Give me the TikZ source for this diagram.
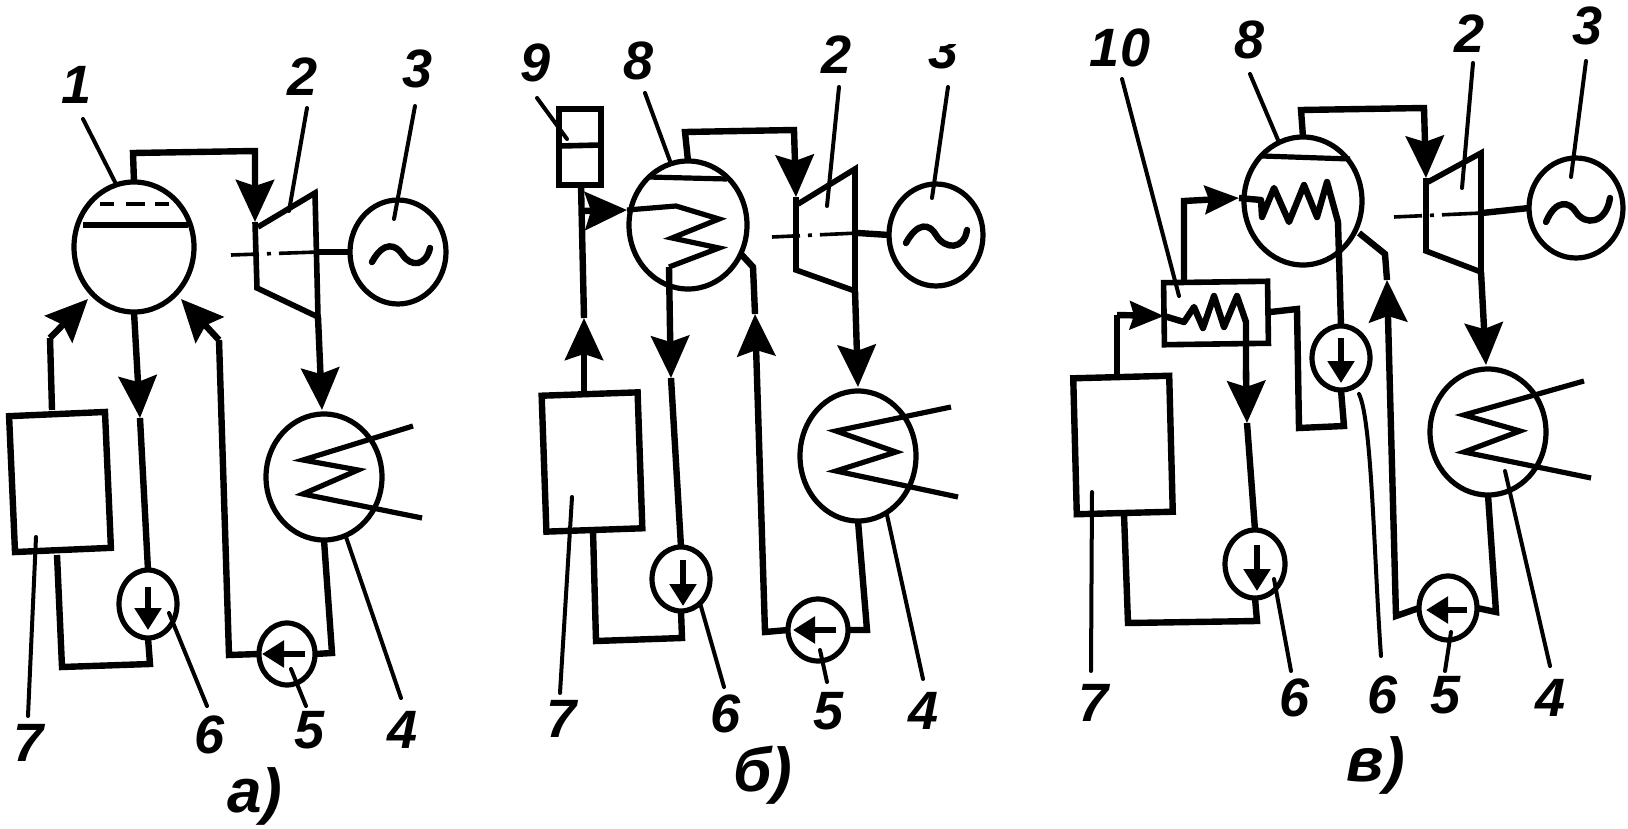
\documentclass[tikz,border=0pt]{standalone}
\usepackage{fontspec}
\setmainfont{Liberation Sans}
\usetikzlibrary{arrows.meta,shapes.geometric}
\tikzset{
 vessel/.style={ellipse,draw=black,line width=2.6pt,inner sep=0pt,outer sep=0pt,fill=none},
 boxunit/.style={rectangle,draw=black,line width=3.2pt,inner sep=0pt,outer sep=0pt},
 pipe/.style={line width=3.2pt,line join=miter,line cap=butt},
 flow/.style={pipe,-{Stealth[length=21pt,width=19pt,inset=3pt]}},
 smallflow/.style={pipe,-{Stealth[length=17pt,width=14pt,inset=2pt]}},
 innerflow/.style={line width=2.6pt,-{Triangle[length=11pt,width=13pt]}},
 coil/.style={line width=2.6pt,line join=miter,miter limit=8},
 tcoil/.style={line width=3.2pt,line join=round},
 casing/.style={line width=2.8pt,line join=miter},
 shaft/.style={line width=1.8pt,dash pattern=on 14pt off 4pt on 2pt off 4pt on 20pt off 1pt},
 wave/.style={line width=3.2pt,line cap=round},
 lab/.style={font=\fontsize{27}{30}\selectfont\itshape\bfseries,inner sep=0pt,text=black},
 caplab/.style={lab,font=\fontsize{31}{34}\selectfont\itshape\bfseries},
 leaderline/.style={line width=2pt,line cap=round},
}
\newcommand\callout[5]{\node[lab] (#1) at (#2) {#3};\coordinate (#1s) at (#4);\coordinate (#1e) at (#5);\draw[leaderline] (#1s) -- (#1e);}
\begin{document}
\begin{tikzpicture}[x=0.5pt,y=-0.5pt]
\useasboundingbox[fill=white] (0,0) rectangle (1628,829);

%%%%%%%%%% panel a
\node[vessel,minimum width=60pt,minimum height=65pt] (aDrum) at (134,247) {};
\node[vessel,minimum width=48pt,minimum height=52pt] (aGen) at (398,252) {};
\node[vessel,minimum width=58pt,minimum height=63pt] (aCond) at (324,477) {};
\node[vessel,minimum width=28pt,minimum height=31pt] (aP5) at (287,654) {};
\node[vessel,minimum width=29pt,minimum height=34pt] (aP6) at (148,604) {};
\node[boxunit,rotate=2.5,minimum width=48pt,minimum height=68pt] (aBoil) at (60,482) {};
% drum internals
\coordinate (aw1) at (83,225); \coordinate (aw2) at (188,225);
\draw[line width=2.6pt] (aw1) -- (aw2);
\coordinate (ad1) at (100,204); \coordinate (ad2) at (114,204);
\coordinate (ad3) at (126,204); \coordinate (ad4) at (145,204);
\coordinate (ad5) at (155,204); \coordinate (ad6) at (169,204);
\draw[line width=1.8pt] (ad1) -- (ad2) (ad3) -- (ad4) (ad5) -- (ad6);
% steam line
\coordinate (as1) at (133,153); \coordinate (as2) at (255,151); \coordinate (as3) at (255,222);
\draw[flow] (aDrum.north) -- (as1) -- (as2) -- (as3);
% turbine
\coordinate (at1) at (258,227); \coordinate (at2) at (315,193); \coordinate (at3) at (318,317); \coordinate (at4) at (257,288);
\draw[casing] (as3) -- (at4) -- (at3) (at1) -- (at2) -- (at3);
\coordinate (asf1) at (231,255); \coordinate (asf2) at (318,252);
\draw[shaft] (asf1) -- (asf2);
\draw[pipe] (asf2) -- (aGen.west);
\draw[wave] (372,262) .. controls (384,240) and (396,245) .. (402,254) .. controls (411,268) and (426,266) .. (430,248);
% exhaust
\coordinate (aex) at (322,410);
\draw[flow] (at3) -- (aex);
% condenser coil
\coordinate (ac1) at (413,426); \coordinate (ac2) at (303,460); \coordinate (ac3) at (358,470); \coordinate (ac4) at (303,494); \coordinate (ac5) at (422,518);
\draw[coil] (ac1) -- (ac2) -- (ac3) -- (ac4) -- (ac5);
% condensate
\coordinate (ad7) at (332,653);
\draw[pipe] (aCond.south) -- (ad7) -- (aP5.east);
\coordinate (api1) at (305,654); \coordinate (api2) at (262,654);
\draw[innerflow] (api1) -- (api2);
\coordinate (ar1) at (229,655); \coordinate (ar2) at (219,340); \coordinate (ar3) at (181,299);
\draw[pipe] (aP5.west) -- (ar1) -- (ar2);
\draw[flow] (ar2) -- (ar3);
% drum to pump 6
\coordinate (adn) at (140,418);
\draw[flow] (aDrum.south) -- (adn);
\draw[pipe] (adn) -- (aP6.north);
\coordinate (api3) at (148,587); \coordinate (api4) at (148,630);
\draw[innerflow] (api3) -- (api4);
\coordinate (ab1) at (150,664); \coordinate (ab2) at (62,667); \coordinate (ab3) at (57,555);
\draw[pipe] (aP6.south) -- (ab1) -- (ab2) -- (ab3);
% boiler up
\coordinate (au1) at (50,338); \coordinate (au2) at (88,299);
\draw[pipe] (52,410) -- (au1);
\draw[flow] (au1) -- (au2);
% labels
\callout{a1}{77,85}{1}{83,119}{115,182}
\callout{a2}{303,77}{2}{307,108}{289,211}
\callout{a3}{418,69}{3}{415,106}{394,219}
\callout{a4}{403,730}{4}{401,698}{346,537}
\callout{a5}{310,730}{5}{306,706}{291,669}
\callout{a6}{210,735}{6}{207,706}{169,613}
\callout{a7}{29,743}{7}{28,716}{36,537}
\node[caplab] (aCap) at (255,796) {а)};

%%%%%%%%%% panel b
\node[vessel,minimum width=59pt,minimum height=64pt] (bDrum) at (688,225) {};
\node[vessel,minimum width=47pt,minimum height=51pt] (bGen) at (936,235) {};
\node[vessel,minimum width=58pt,minimum height=65pt] (bCond) at (858,456) {};
\node[vessel,minimum width=30pt,minimum height=31pt] (bP5) at (818,630) {};
\node[vessel,minimum width=29pt,minimum height=32pt] (bP6) at (681,579) {};
\node[boxunit,rotate=2,minimum width=48pt,minimum height=68pt] (bBoil) at (592,462) {};
\node[boxunit,minimum width=21pt,minimum height=38pt] (bTank) at (580,147) {};
\coordinate (btd1) at (560,146); \coordinate (btd2) at (601,145);
\draw[line width=2.8pt] (btd1) -- (btd2);
\coordinate (bw1) at (648,177); \coordinate (bw2) at (727,179);
\draw[line width=2.6pt] (bw1) -- (bw2);
% steam
\coordinate (bs1) at (685,132); \coordinate (bs2) at (794,130); \coordinate (bs3) at (796,197);
\draw[flow] (bDrum.north) -- (bs1) -- (bs2) -- (bs3);
\coordinate (bt1) at (798,204); \coordinate (bt2) at (855,169); \coordinate (bt3) at (855,291); \coordinate (bt4) at (796,270);
\draw[casing] (bs3) -- (bt4) -- (bt3) (bt1) -- (bt2) -- (bt3);
\coordinate (bsf1) at (772,237); \coordinate (bsf2) at (858,233);
\draw[shaft] (bsf1) -- (bsf2);
\draw[pipe] (bsf2) -- (bGen.west);
\draw[wave] (906,243) .. controls (918,221) and (930,224) .. (936,235) .. controls (945,250) and (964,250) .. (967,230);
\coordinate (bex) at (858,387);
\draw[flow] (bt3) -- (bex);
\coordinate (bc1) at (951,407); \coordinate (bc2) at (836,431); \coordinate (bc3) at (896,452); \coordinate (bc4) at (836,471); \coordinate (bc5) at (958,497);
\draw[coil] (bc1) -- (bc2) -- (bc3) -- (bc4) -- (bc5);
\coordinate (bd1) at (867,630);
\draw[pipe] (bCond.south) -- (bd1) -- (bP5.east);
\coordinate (bpi1) at (836,630); \coordinate (bpi2) at (793,630);
\draw[innerflow] (bpi1) -- (bpi2);
\coordinate (br1) at (765,632); \coordinate (br2) at (755,314); \coordinate (br3) at (753,267); \coordinate (br4) at (741,254);
\draw[flow] (bP5.west) -- (br1) -- (br2);
\draw[pipe] (br2) -- (br3) -- (br4);
% feed
\coordinate (bu1) at (584,318); \coordinate (bu2) at (581,185);
\draw[flow] (584,391) -- (bu1);
\draw[pipe] (bu1) -- (bu2);
\coordinate (bf0) at (583,211); \coordinate (bf1) at (627,210);
\draw[flow] (bf0) -- (bf1);
\coordinate (bz1) at (676,206); \coordinate (bz2) at (719,219); \coordinate (bz3) at (672,238); \coordinate (bz4) at (719,248); \coordinate (bz5) at (669,267);
\draw[coil] (bf1) -- (bz1) -- (bz2) -- (bz3) -- (bz4) -- (bz5);
\coordinate (bdn) at (671,378);
\draw[flow] (bz5) -- (670,330) -- (bdn);
\draw[pipe] (bdn) -- (bP6.north);
\coordinate (bpi3) at (683,560); \coordinate (bpi4) at (683,606);
\draw[innerflow] (bpi3) -- (bpi4);
\coordinate (bb1) at (682,638); \coordinate (bb2) at (596,641); \coordinate (bb3) at (593,530);
\draw[pipe] (bP6.south) -- (bb1) -- (bb2) -- (bb3);
% labels
\callout{b9}{536,63}{9}{537,98}{567,139}
\callout{b8}{639,61}{8}{645,93}{670,161}
\callout{b2}{837,55}{2}{839,87}{827,206}
\begin{scope}
\clip (900,45) rectangle (990,90);
\node[lab] (b3) at (944,50) {3};
\end{scope}
\coordinate (b3s) at (948,87); \coordinate (b3e) at (932,198);
\draw[leaderline] (b3s) -- (b3e);
\callout{b4}{924,711}{4}{923,679}{887,515}
\callout{b5}{829,711}{5}{827,682}{820,650}
\callout{b6}{726,714}{6}{724,687}{700,603}
\callout{b7}{562,719}{7}{560,693}{572,497}
\node[caplab] (bCap) at (763,775) {б)};

%%%%%%%%%% panel c
\node[vessel,minimum width=59pt,minimum height=64pt] (cDrum) at (1303,201) {};
\node[vessel,minimum width=47pt,minimum height=50pt] (cGen) at (1576,208) {};
\node[vessel,minimum width=58pt,minimum height=63pt] (cCond) at (1488,432) {};
\node[vessel,minimum width=29pt,minimum height=32pt] (cP5) at (1448,608) {};
\node[vessel,minimum width=30pt,minimum height=34pt] (cP6a) at (1255,564) {};
\node[vessel,minimum width=29pt,minimum height=32pt] (cP6b) at (1341,358) {};
\node[boxunit,rotate=1.5,minimum width=48pt,minimum height=68pt] (cBoil) at (1123,445) {};
\node[boxunit,line width=2.8pt,rotate=0.8,minimum width=52pt,minimum height=31pt] (cEco) at (1216,313) {};
\coordinate (cw1) at (1262,156); \coordinate (cw2) at (1350,159);
\draw[line width=2.6pt] (cw1) -- (cw2);
% steam
\coordinate (cs1) at (1301,110); \coordinate (cs2) at (1424,108); \coordinate (cs3) at (1426,178);
\draw[flow] (cDrum.north) -- (cs1) -- (cs2) -- (cs3);
\coordinate (ct1) at (1428,182); \coordinate (ct2) at (1481,153); \coordinate (ct3) at (1481,272); \coordinate (ct4) at (1426,251);
\draw[casing] (cs3) -- (ct4) -- (ct3) (ct1) -- (ct2) -- (ct3);
\coordinate (csf1) at (1394,217); \coordinate (csf2) at (1482,213);
\draw[shaft] (csf1) -- (csf2);
\draw[pipe] (csf2) -- (cGen.west);
\draw[wave] (1546,222) .. controls (1556,198) and (1570,202) .. (1576,212) .. controls (1585,226) and (1606,224) .. (1610,198);
\coordinate (cex) at (1486,365);
\draw[flow] (ct3) -- (cex);
\coordinate (cc1) at (1584,381); \coordinate (cc2) at (1464,415); \coordinate (cc3) at (1520,431); \coordinate (cc4) at (1464,452); \coordinate (cc5) at (1591,478);
\draw[coil] (cc1) -- (cc2) -- (cc3) -- (cc4) -- (cc5);
\coordinate (cd1) at (1496,612);
\draw[pipe] (cCond.south) -- (cd1) -- (cP5.east);
\coordinate (cpi1) at (1467,610); \coordinate (cpi2) at (1426,610);
\draw[innerflow] (cpi1) -- (cpi2);
\coordinate (cr1) at (1396,616); \coordinate (cr2) at (1387,280); \coordinate (cr3) at (1385,254); \coordinate (cr4) at (1359,233);
\draw[flow] (cP5.west) -- (cr1) -- (cr2);
\draw[pipe] (cr2) -- (cr3) -- (cr4);
% economiser to drum coil
\coordinate (cf1) at (1184,201); \coordinate (cf2) at (1239,198);
\draw[smallflow] (1184,281) -- (cf1) -- (cf2);
\draw[tcoil] (cf2) -- (1261,200) -- (1262,217) -- (1274,188) -- (1289,222) -- (1304,185) -- (1317,217) -- (1327,182) -- (1338,222) -- (cP6b.north);
\coordinate (cpi3) at (1341,338); \coordinate (cpi4) at (1341,383);
\draw[innerflow] (cpi3) -- (cpi4);
\coordinate (cg1) at (1344,426); \coordinate (cg2) at (1299,428); \coordinate (cg3) at (1297,309);
\draw[pipe] (cP6b.south) -- (cg1) -- (cg2) -- (cg3) -- (cEco.east);
% boiler to economiser
\coordinate (ch1) at (1117,315); \coordinate (ch2) at (1164,316);
\draw[pipe] (1117,375) -- (ch1);
\draw[smallflow] (ch1) -- (ch2);
\coordinate (cdn) at (1247,423);
\draw[tcoil] (ch2) -- (1184,322) -- (1194,307) -- (1203,328) -- (1214,296) -- (1224,327) -- (1237,296) -- (1246,322) -- (1246,380);
\draw[flow] (1246,370) -- (cdn);
\draw[pipe] (cdn) -- (cP6a.north);
\coordinate (cpi5) at (1257,545); \coordinate (cpi6) at (1257,591);
\draw[innerflow] (cpi5) -- (cpi6);
\coordinate (ci1) at (1257,621); \coordinate (ci2) at (1128,623); \coordinate (ci3) at (1124,514);
\draw[pipe] (cP6a.south) -- (ci1) -- (ci2) -- (ci3);
% labels
\callout{c10}{1120,48}{10}{1122,79}{1179,296}
\callout{c8}{1250,40}{8}{1250,74}{1278,140}
\callout{c2}{1469,34}{2}{1473,63}{1462,188}
\callout{c3}{1587,26}{3}{1586,61}{1571,177}
\callout{c6a}{1295,698}{6}{1291,671}{1274,579}
\node[lab] (c6b) at (1383,695) {6};
\coordinate (c6bs) at (1381,656); \coordinate (c6be) at (1359,394);
\draw[leaderline] (c6bs) .. controls (1374,560) and (1372,420) .. (c6be);
\callout{c5}{1445,695}{5}{1445,671}{1451,632}
\callout{c4}{1550,698}{4}{1550,666}{1505,471}
\callout{c7}{1094,703}{7}{1091,671}{1092,492}
\node[caplab] (cCap) at (1376,765) {в)};
\end{tikzpicture}
\end{document}
